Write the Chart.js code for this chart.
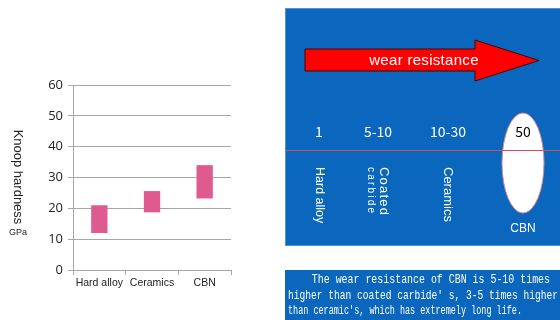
<!DOCTYPE html>
<html>
<head>
<meta charset="utf-8">
<script src="https://cdn.jsdelivr.net/npm/chart.js@4/dist/chart.umd.min.js"></script>
<style>
html,body{margin:0;padding:0;background:#fff;}
#wrap{position:relative;width:560px;height:320px;}
canvas{display:block;}
</style>
</head>
<body>
<div id="wrap"><canvas id="c" width="560" height="320"></canvas></div>
<script>
// ---- data ----
const categories = ['Hard alloy', 'Ceramics', 'CBN'];
const hardnessLow = [12, 18.7, 23.2];
const hardnessHigh = [21, 25.6, 34];
const yMin = 0, yMax = 60, yStep = 10;
const axisTitle = 'Knoop hardness';
const axisUnit = 'GPa';

const arrowLabel = 'wear resistance';
const wearValues = ['1', '5-10', '10-30', '50'];
const wearNames = [['Hard alloy'], ['Coated', 'carbide'], ['Ceramics'], ['CBN']];
const noteLines = [
  '    The wear resistance of CBN is 5-10 times',
  "higher than coated carbide' s, 3-5 times higher",
  "than ceramic's, which has extremely long life."
];

const BLUE = '#0b67bd';

const panelPlugin = {
  id: 'panel',
  afterDraw(chart) {
    const ctx = chart.ctx;
    ctx.save();
    // y-axis title (rotated clockwise)
    ctx.fillStyle = '#222';
    ctx.font = '13px "Liberation Sans", Arial, sans-serif';
    ctx.textAlign = 'center';
    ctx.textBaseline = 'middle';
    ctx.save();
    ctx.translate(18, 177);
    ctx.rotate(Math.PI / 2);
    ctx.fillText(axisTitle, 0, 0);
    ctx.restore();
    ctx.font = '9px "Liberation Sans Narrow", "Liberation Sans", sans-serif';
    ctx.fillText(axisUnit, 18, 233);

    // right blue panel
    ctx.fillStyle = BLUE;
    ctx.fillRect(285, 8, 275, 238);
    ctx.strokeStyle = '#4f93d6';
    ctx.lineWidth = 1;
    ctx.strokeRect(285.5, 8.5, 275, 237);

    // arrow
    ctx.beginPath();
    ctx.moveTo(305, 49);
    ctx.lineTo(475, 49);
    ctx.lineTo(475, 40);
    ctx.lineTo(539, 60.5);
    ctx.lineTo(475, 81);
    ctx.lineTo(475, 71);
    ctx.lineTo(305, 71);
    ctx.closePath();
    ctx.fillStyle = '#ff0000';
    ctx.fill();
    ctx.strokeStyle = '#3a0a0a';
    ctx.lineWidth = 1;
    ctx.stroke();
    ctx.fillStyle = '#fff';
    ctx.font = '15px "Liberation Sans", Arial, sans-serif';
    ctx.letterSpacing = '0.3px';
    ctx.textAlign = 'center';
    ctx.textBaseline = 'middle';
    ctx.fillText(arrowLabel, 424, 61);
    ctx.letterSpacing = '0px';

    // ellipse
    ctx.beginPath();
    ctx.ellipse(523, 163, 21, 50, 0, 0, Math.PI * 2);
    ctx.fillStyle = '#fff';
    ctx.fill();
    ctx.strokeStyle = '#d88a95';
    ctx.lineWidth = 1;
    ctx.stroke();

    // red line
    ctx.beginPath();
    ctx.moveTo(285, 150.5);
    ctx.lineTo(560, 150.5);
    ctx.strokeStyle = '#d0505e';
    ctx.stroke();

    // values
    const colX = [319, 378, 448, 523];
    ctx.font = '14px "Noto Sans CJK SC", "Liberation Sans", sans-serif';
    wearValues.forEach((v, i) => {
      ctx.fillStyle = i === 3 ? '#000' : '#fff';
      ctx.fillText(v, colX[i], 132);
    });

    // names
    ctx.fillStyle = '#fff';
    ctx.textAlign = 'left';
    wearNames.forEach((n, i) => {
      if (i === 3) {
        ctx.font = '12px "Liberation Sans", Arial, sans-serif';
        ctx.textAlign = 'center';
        ctx.fillText(n[0], colX[i], 229);
        ctx.textAlign = 'left';
        return;
      }
      if (n.length === 1) {
        ctx.save();
        ctx.font = (i === 0 ? '12.5px' : '13px') + ' "Liberation Sans", Arial, sans-serif';
        ctx.translate(colX[i], 167);
        ctx.rotate(Math.PI / 2);
        ctx.fillText(n[0], 0, 0);
        ctx.restore();
      } else {
        ctx.save();
        ctx.font = '13px "Liberation Sans", Arial, sans-serif';
        ctx.letterSpacing = '1.2px';
        ctx.translate(colX[i] + 6, 167);
        ctx.rotate(Math.PI / 2);
        ctx.fillText(n[0], 0, 0);
        ctx.restore();
        ctx.save();
        ctx.font = '10px "Liberation Sans", Arial, sans-serif';
        ctx.letterSpacing = '2.2px';
        ctx.translate(colX[i] - 7, 167);
        ctx.rotate(Math.PI / 2);
        ctx.fillText(n[1], 0, 0);
        ctx.restore();
        ctx.letterSpacing = '0px';
      }
    });

    // bottom note box
    ctx.fillStyle = BLUE;
    ctx.fillRect(285, 270, 275, 50);
    ctx.fillStyle = '#fff';
    ctx.font = '12px "Liberation Mono", "DejaVu Sans Mono", monospace';
    ctx.textAlign = 'left';
    ctx.textBaseline = 'middle';
    const lineY = [280, 296, 311];
    const lineX0 = [288, 288, 288];
    const lineX1 = [550, 558, 522];
    noteLines.forEach((t, i) => {
      const w = ctx.measureText(t).width;
      const s = (lineX1[i] - lineX0[i]) / w;
      ctx.save();
      ctx.translate(lineX0[i], lineY[i]);
      ctx.scale(s, 1);
      ctx.fillText(t, 0, 0);
      ctx.restore();
    });
    ctx.restore();
  }
};

new Chart(document.getElementById('c'), {
  type: 'bar',
  data: {
    labels: categories,
    datasets: [{
      data: categories.map((_, i) => [hardnessLow[i], hardnessHigh[i]]),
      backgroundColor: '#df5a8f',
      borderWidth: 0,
      borderSkipped: false,
      categoryPercentage: 1,
      barPercentage: 0.31
    }]
  },
  options: {
    responsive: false,
    devicePixelRatio: 1,
    animation: false,
    layout: { padding: { left: 0, top: 85, right: 329, bottom: 0 } },
    plugins: { legend: { display: false }, tooltip: { enabled: false } },
    scales: {
      x: {
        afterFit(s) { s.height = 50; },
        grid: { offset: true, drawOnChartArea: false, tickLength: 5, color: '#a6a6a6' },
        border: { color: '#a6a6a6' },
        ticks: { color: '#222', padding: 2, maxRotation: 0, minRotation: 0, autoSkip: false,
                 font: { family: '"Liberation Sans", Arial, sans-serif', size: 10.5 } }
      },
      y: {
        min: yMin, max: yMax,
        afterFit(s) { s.width = 73; },
        grid: { color: '#a6a6a6', tickLength: 5 },
        border: { color: '#a6a6a6' },
        ticks: { stepSize: yStep, color: '#222', padding: 5, font: { family: '"Open Sans", sans-serif', size: 13 } }
      }
    }
  },
  plugins: [panelPlugin]
});
</script>
</body>
</html>
